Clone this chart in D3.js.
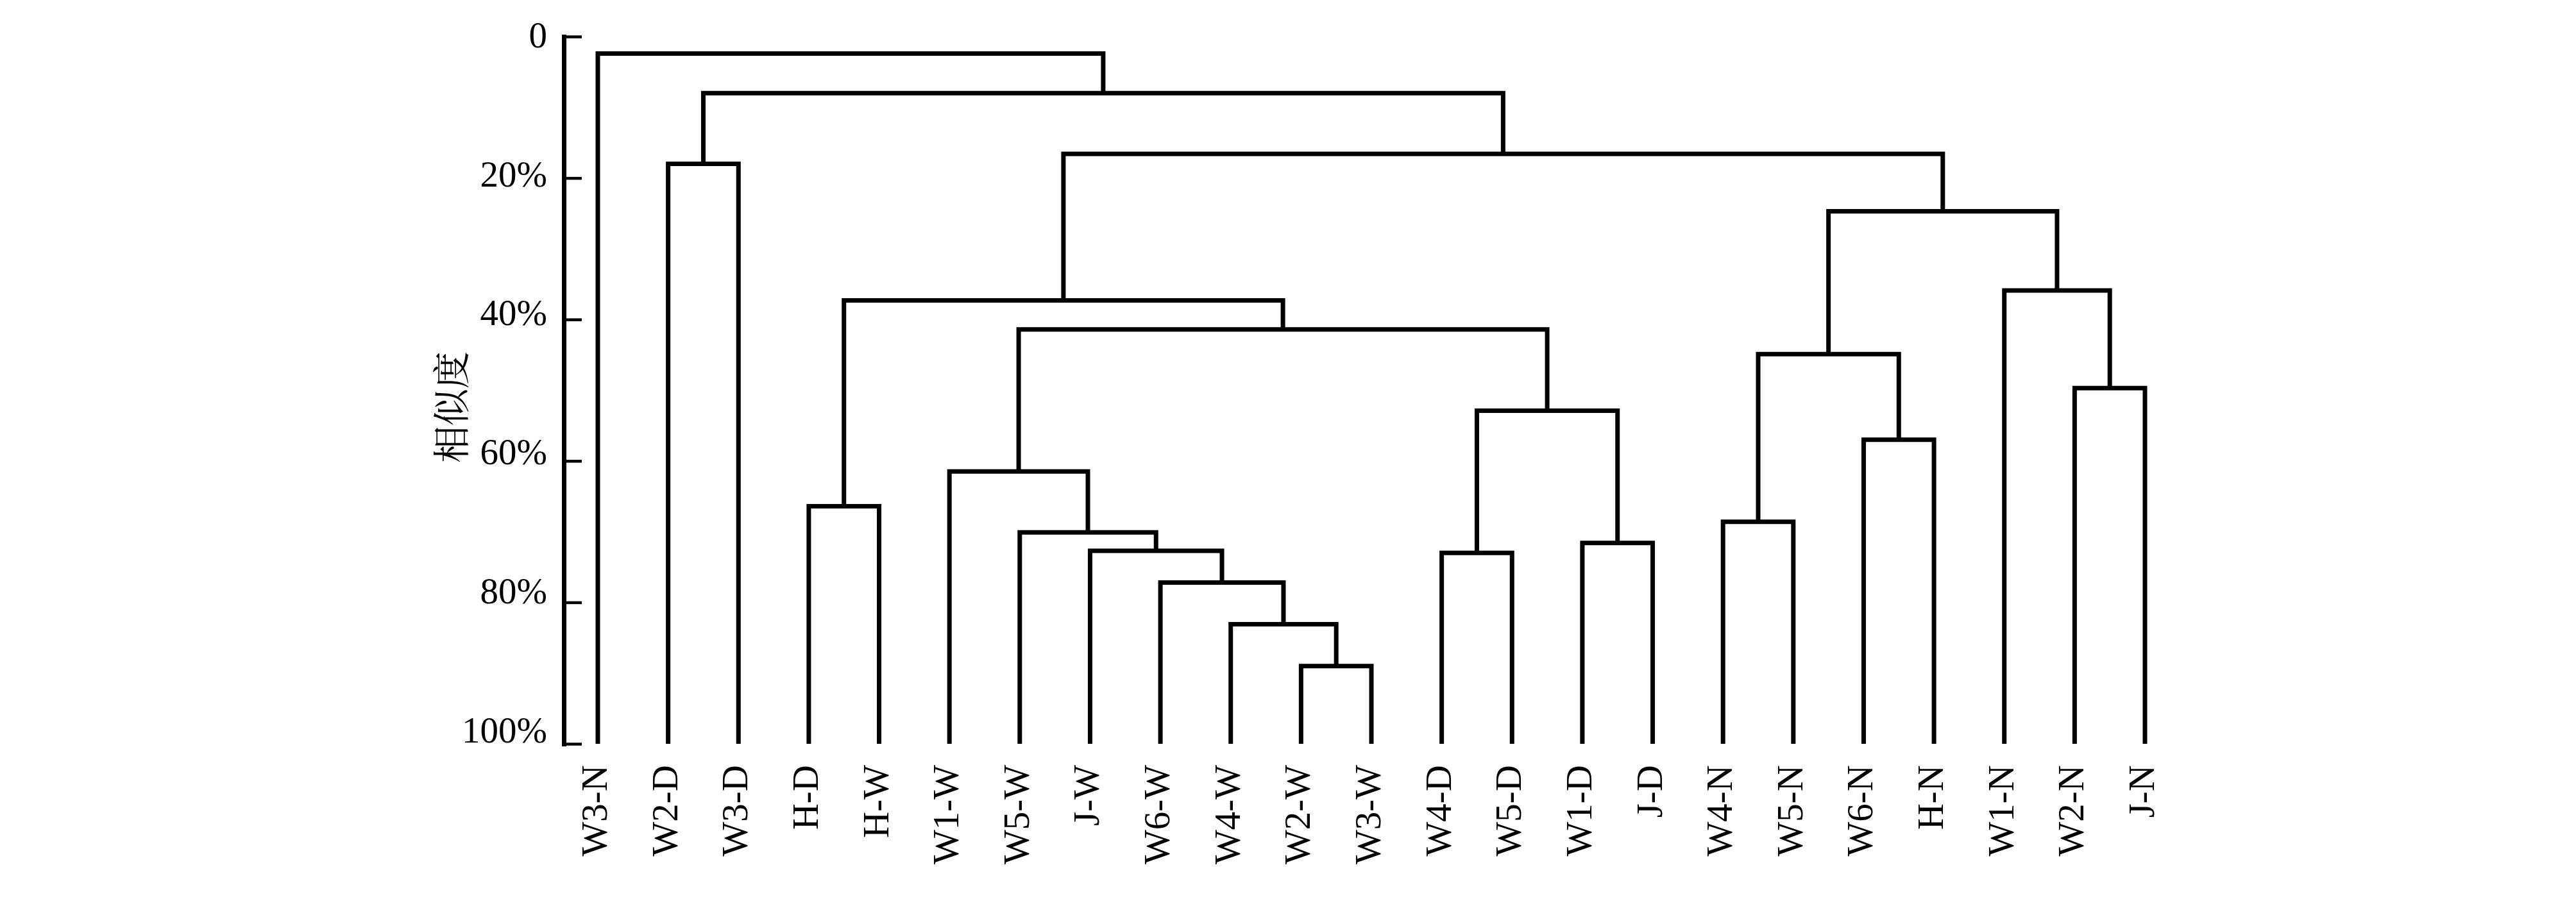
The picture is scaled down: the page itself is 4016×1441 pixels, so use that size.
<!DOCTYPE html>
<html>
<head>
<meta charset="utf-8">
<script src="https://cdn.jsdelivr.net/npm/d3@7"></script>
<style>
  html, body { margin: 0; padding: 0; background: #fff; }
  svg { display: block; }
</style>
</head>
<body>
<script>
// ---------------- DATA ----------------
const leaves = ["W3-N","W2-D","W3-D","H-D","H-W","W1-W","W5-W","J-W","W6-W","W4-W","W2-W","W3-W",
                "W4-D","W5-D","W1-D","J-D","W4-N","W5-N","W6-N","H-N","W1-N","W2-N","J-N"];
// internal clusters: id, its two children, similarity (%) at which they join
const nodeIds    = ["root","A","B","C","D","HH","E","F","F2","F3","F4","F5","F6","G","G1","G2","N","N1","N11","N12","N2","N21"];
const nodeChildren = [
  ["W3-N","A"], ["B","C"], ["W2-D","W3-D"], ["D","N"], ["HH","E"], ["H-D","H-W"], ["F","G"],
  ["W1-W","F2"], ["W5-W","F3"], ["J-W","F4"], ["W6-W","F5"], ["W4-W","F6"], ["W2-W","W3-W"],
  ["G1","G2"], ["W4-D","W5-D"], ["W1-D","J-D"], ["N1","N2"], ["N11","N12"], ["W4-N","W5-N"],
  ["W6-N","H-N"], ["W1-N","N21"], ["W2-N","J-N"]
];
const nodeSimilarity = [2.4, 8.0, 18.0, 16.6, 37.3, 66.4, 41.4, 61.5, 70.1, 72.7, 77.2, 83.1, 89.0,
                        52.9, 73.0, 71.6, 24.7, 44.9, 68.6, 57.0, 35.9, 49.7];
const yTicks = [0, 20, 40, 60, 80, 100];
const yTickLabels = ["0", "20%", "40%", "60%", "80%", "100%"];
const yTitle = "相似度";

// ---------------- LAYOUT ----------------
const W = 4016, H = 1441;
const axisX = 879;
const y = d3.scaleLinear().domain([0, 100]).range([57, 1160]);
const x = d3.scalePoint().domain(leaves).range([932, 3344]);
const labelShift = d3.scaleLinear().domain([0, 100]).range([-2, -21]);

const svg = d3.select("body").append("svg")
  .attr("width", W).attr("height", H)
  .attr("viewBox", `0 0 ${W} ${H}`);
svg.append("rect").attr("width", W).attr("height", H).attr("fill", "#fff");

// build hierarchy
const childMap = new Map(nodeIds.map((id, i) => [id, nodeChildren[i]]));
const simMap = new Map(nodeIds.map((id, i) => [id, nodeSimilarity[i]]));
function build(id) {
  const ch = childMap.get(id);
  return ch ? { id, sim: simMap.get(id), children: ch.map(build) } : { id, sim: 100 };
}
const root = d3.hierarchy(build("root"));
root.eachAfter(n => {
  if (!n.children) n.px = x(n.data.id);
  else n.px = d3.mean(n.children, c => c.px);
  n.py = y(n.data.sim);
});

// dendrogram links
const g = svg.append("g");
g.selectAll("path.link")
  .data(root.descendants().filter(n => n.children))
  .join("path")
  .attr("class", "link")
  .attr("fill", "none")
  .attr("stroke", "#000")
  .attr("stroke-width", 7)
  .attr("stroke-linejoin", "miter")
  .attr("d", n => {
    const [a, b] = n.children;
    return `M${a.px},${a.py}V${n.py}H${b.px}V${b.py}`;
  });

// y axis
const yAxis = d3.axisLeft(y)
  .tickValues(yTicks)
  .tickFormat((d, i) => yTickLabels[i])
  .tickSizeInner(-28)
  .tickSizeOuter(0)
  .tickPadding(26);
const ax = svg.append("g").attr("transform", `translate(${axisX},0)`).call(yAxis);
ax.select(".domain").attr("stroke", "#000").attr("stroke-width", 7).attr("stroke-linecap", "square");
ax.selectAll(".tick line").attr("stroke", "#000").attr("stroke-width", 4.5);
ax.selectAll(".tick text")
  .attr("fill", "#000")
  .attr("font-family", "'Liberation Serif', 'Times New Roman', serif")
  .attr("font-size", 57)
  .attr("y", d => labelShift(d));

// y title
svg.append("text")
  .attr("transform", `translate(700,635) rotate(-90)`)
  .attr("text-anchor", "middle")
  .attr("dominant-baseline", "central")
  .attr("font-family", "'Noto Serif CJK SC', 'Noto Sans CJK SC', sans-serif")
  .attr("font-size", 58)
  .attr("fill", "#000")
  .text(yTitle);

// leaf labels
svg.append("g").selectAll("text")
  .data(leaves)
  .join("text")
  .attr("transform", d => `translate(${x(d)},1193) rotate(-90)`)
  .attr("text-anchor", "end")
  .attr("dy", 14)
  .attr("font-family", "'Liberation Serif', 'Times New Roman', serif")
  .attr("font-size", 57)
  .attr("fill", "#000")
  .text(d => d);
</script>
</body>
</html>
